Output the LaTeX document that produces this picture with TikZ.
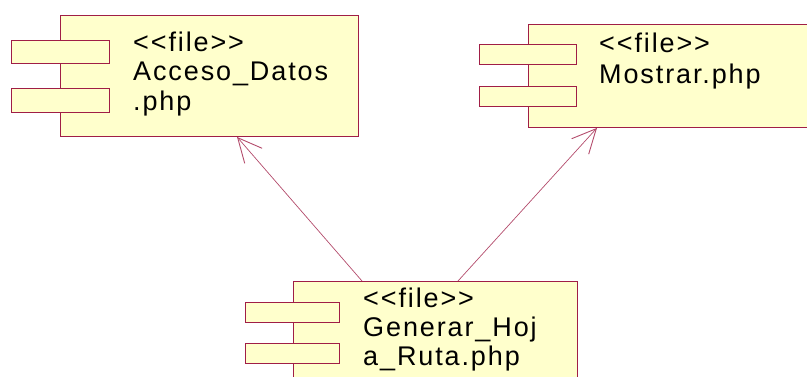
\documentclass[tikz,border=0pt]{standalone}
\usepackage{fontspec}
\setmainfont[LetterSpace=7,Ligatures=TeXOff]{Liberation Sans}
\usetikzlibrary{arrows.meta}
\definecolor{bord}{RGB}{160,30,70}
\definecolor{fillc}{RGB}{255,255,204}
\begin{document}
\begin{tikzpicture}[x=1pt,y=-1pt,
  comp/.style={draw=bord,fill=fillc,line width=0.9pt,anchor=north west,inner sep=0pt},
  lbl/.style={anchor=base west,inner sep=0pt,font=\fontsize{27}{30}\selectfont,text=black},
  dep/.style={draw=bord!80,line width=0.7pt,-{Straight Barb[length=24pt,width=23pt,line width=0.9pt]}}]
\useasboundingbox (0,0) rectangle (807,376);
\clip (0,0) rectangle (807,376);
% Acceso_Datos
\node[comp,minimum width=298pt,minimum height=121pt] (a) at (60,15) {};
\node[comp,minimum width=98pt,minimum height=23pt] (a1) at (11,40) {};
\node[comp,minimum width=98pt,minimum height=24pt] (a2) at (11,88) {};
\node[lbl] (at1) at (133,51) {<<file>>};
\node[lbl] (at2) at (133,80) {Acceso\_Datos};
\node[lbl] (at3) at (133,110) {.php};
% Mostrar
\node[comp,minimum width=300pt,minimum height=103pt] (m) at (528,24) {};
\node[comp,minimum width=97pt,minimum height=20pt] (m1) at (479,44) {};
\node[comp,minimum width=97pt,minimum height=20pt] (m2) at (479,86) {};
\node[lbl] (mt1) at (599,52) {<<file>>};
\node[lbl] (mt2) at (599,83) {Mostrar.php};
% Generar
\node[comp,minimum width=284pt,minimum height=120pt] (g) at (293,281) {};
\node[comp,minimum width=94pt,minimum height=20pt] (g1) at (245,302) {};
\node[comp,minimum width=94pt,minimum height=20pt] (g2) at (245,343) {};
\node[lbl] (gt1) at (363,307) {<<file>>};
\node[lbl] (gt2) at (363,336) {Generar\_Hoj};
\node[lbl] (gt3) at (363,365) {a\_Ruta.php};
% connectors
\path (g.north west) ++(69,0) coordinate (gl);
\path (g.north west) ++(165,0) coordinate (gr);
\path (a.south west) ++(177,0) coordinate (ae);
\path (m.south west) ++(69,0) coordinate (me);
\draw[dep] (gl) -- (ae);
\draw[dep] (gr) -- (me);
\end{tikzpicture}
\end{document}
